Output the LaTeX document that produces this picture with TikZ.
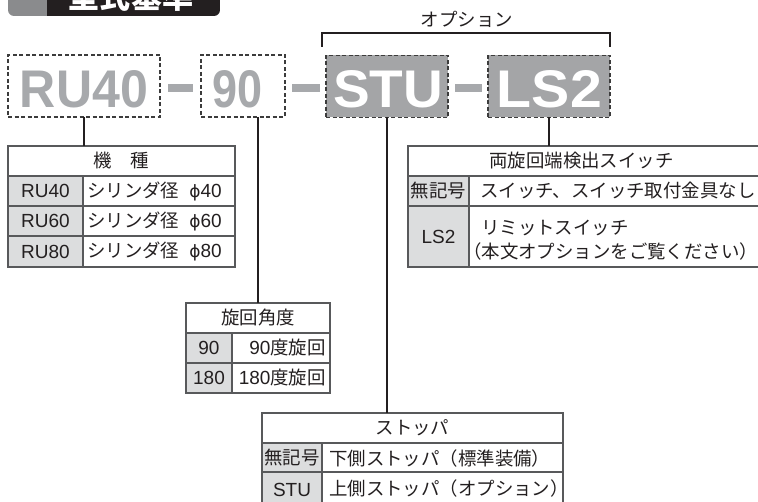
\documentclass[tikz,border=0pt]{standalone}
\usepackage{fontspec}
\usepackage{graphicx}
\setmainfont{Liberation Sans}
\newfontfamily\jp[Scale=0.97]{Noto Sans CJK JP}
\newfontfamily\dv{DejaVu Sans}
\newcommand\tblfont{\fontsize{19}{24}\selectfont}
\newcommand\myphi{{\dv\fontsize{17}{20}\selectfont ϕ}}
\definecolor{ink}{HTML}{231F20}
\definecolor{bordercol}{HTML}{58595B}
\definecolor{cellgray}{HTML}{DCDDDE}
\definecolor{codegray}{HTML}{A7A9AC}
\definecolor{codefill}{HTML}{A4A5A7}
\definecolor{dashcol}{HTML}{3C3C3C}
\definecolor{bannergray}{HTML}{8A8B8D}
\begin{document}
\begin{tikzpicture}[x=1pt,y=-1pt,
  cell/.style n args={2}{draw=bordercol, line width=1.2pt, minimum width=#1, minimum height=#2,
     anchor=north west, inner sep=0pt, outer sep=0pt, font=\tblfont, text=ink},
  gcell/.style n args={2}{cell={#1}{#2}, fill=cellgray},
  txt/.style={inner sep=0pt, font=\tblfont, text=ink},
  codebox/.style={draw=dashcol, dash pattern=on 4pt off 2.5pt, line width=1.1pt, inner sep=0pt,
     outer sep=0pt, minimum height=62pt},
  conn/.style={draw=ink, line width=1.2pt},
  bar/.style={fill=codegray}]
\useasboundingbox (0,0) rectangle (758,502);

% banner
\begin{scope}
  \clip[rounded corners=6pt] (8,-40) rectangle (220,16);
  \fill[bannergray] (8,-40) rectangle (47,16);
  \fill[ink] (47,-40) rectangle (220,16);
\end{scope}
\node[anchor=base, inner sep=0pt, text=white, font=\fontsize{32}{32}\selectfont\jp\bfseries] (title) at (131,9) {型式基準};

% option bracket
\node[txt] (opt) at (467,19) {{\jp オプション}};
\coordinate (bl) at (322,47);
\coordinate (br) at (610,47);
\draw[conn] (bl) -- (bl |- 0,33) -- (br |- 0,33) -- (br);

% code boxes
\node[codebox, minimum width=152pt] (ru40) at (84,86) {};
\node[codebox, minimum width=84pt] (b90) at (243,86) {};
\node[codebox, minimum width=122pt, fill=codefill] (stu) at (387,86.5) {};
\node[codebox, minimum width=122pt, fill=codefill] (ls2) at (549,86.5) {};
\node[inner sep=0pt, text=codegray] (ru40t) at (84,89) {\resizebox{128pt}{37pt}{\bfseries RU40}};
\node[inner sep=0pt, text=codegray] (b90t) at (238,89) {\resizebox{50pt}{37pt}{\bfseries 90}};
\node[inner sep=0pt, text=white] (stut) at (388,89) {\resizebox{110pt}{37pt}{\bfseries STU}};
\node[inner sep=0pt, text=white] (ls2t) at (549.5,89) {\resizebox{105pt}{37pt}{\bfseries LS2}};
\fill[bar] (168,84) rectangle (193,92);
\fill[bar] (292,84) rectangle (320,92);
\fill[bar] (455,84) rectangle (482,92);

% table: kishu
\node[cell={227pt}{30pt}] (k0) at (8,146) {{\jp 機　種}};
\node[gcell={75pt}{30pt}] (k1a) at (8,176) {RU40};
\node[cell={152pt}{30pt}] (k1b) at (83,176) {};
\node[gcell={75pt}{30pt}] (k2a) at (8,206) {RU60};
\node[cell={152pt}{30pt}] (k2b) at (83,206) {};
\node[gcell={75pt}{31pt}] (k3a) at (8,236) {RU80};
\node[cell={152pt}{31pt}] (k3b) at (83,236) {};
\node[txt, anchor=west] (k1t) at ([xshift=4pt]k1b.west) {{\jp シリンダ径}\hspace{10pt}\myphi 40};
\node[txt, anchor=west] (k2t) at ([xshift=4pt]k2b.west) {{\jp シリンダ径}\hspace{10pt}\myphi 60};
\node[txt, anchor=west] (k3t) at ([xshift=4pt]k3b.west) {{\jp シリンダ径}\hspace{10pt}\myphi 80};

% table: angle
\node[cell={144pt}{30pt}] (t0) at (186,303) {{\jp 旋回角度}};
\node[gcell={46pt}{30pt}] (t1a) at (186,333) {90};
\node[cell={98pt}{30pt}] (t1b) at (232,333) {};
\node[gcell={46pt}{30pt}] (t2a) at (186,363) {180};
\node[cell={98pt}{30pt}] (t2b) at (232,363) {};
\node[txt, anchor=east] (t1t) at ([xshift=-4pt]t1b.east) {90{\jp 度旋回}};
\node[txt, anchor=east] (t2t) at ([xshift=-4pt]t2b.east) {180{\jp 度旋回}};

% table: switch
\node[cell={352pt}{30pt}] (l0) at (408,146) {};
\node[txt] (l0t) at (581.5,161) {{\jp 両旋回端検出スイッチ}};
\node[gcell={61pt}{30pt}] (l1a) at (408,176) {{\jp 無記号}};
\node[cell={291pt}{30pt}] (l1b) at (469,176) {};
\node[gcell={61pt}{61pt}] (l2a) at (408,206) {LS2};
\node[cell={291pt}{61pt}] (l2b) at (469,206) {};
\node[txt, anchor=west] (l1t) at (480,191) {{\jp スイッチ、スイッチ取付金具なし}};
\node[txt, anchor=west, align=left] (l2t) at (481,240.5) {{\jp リミットスイッチ}\\{\jp\hspace*{-18pt}（本文オプションをご覧ください）}};

% table: stopper
\node[cell={301pt}{30pt}] (s0) at (262,413) {{\jp ストッパ}};
\node[gcell={60pt}{29pt}] (s1a) at (262,443) {{\jp 無記号}};
\node[cell={241pt}{29pt}] (s1b) at (322,443) {};
\node[gcell={60pt}{35pt}] (s2a) at (262,472) {STU};
\node[cell={241pt}{35pt}] (s2b) at (322,472) {};
\node[txt, anchor=west] (s1t) at (329,458) {{\jp 下側ストッパ（標準装備）}};
\node[txt, anchor=west] (s2t) at (329,488) {{\jp 上側ストッパ（オプション）}};

% connectors
\draw[conn] (ru40.south) -- (ru40.south |- k0.north);
\draw[conn] (b90.south -| t0.north) -- (t0.north);
\draw[conn] (stu.south) -- (stu.south |- s0.north);
\draw[conn] (ls2.south) -- (ls2.south |- l0.north);
\end{tikzpicture}
\end{document}
